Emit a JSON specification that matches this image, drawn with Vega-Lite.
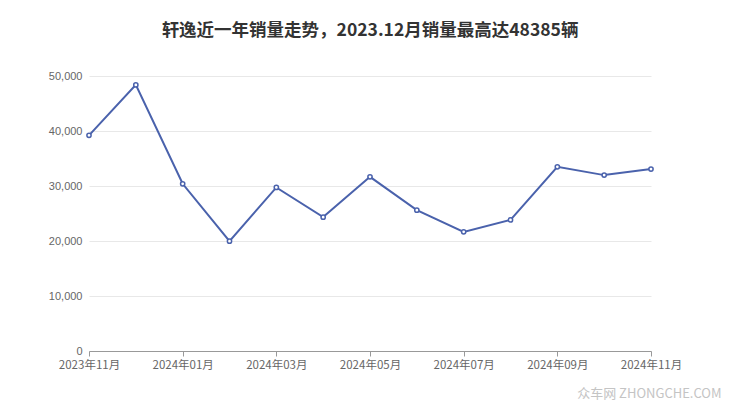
{
  "$schema": "https://vega.github.io/schema/vega-lite/v6.json",
  "width": 562,
  "height": 275,
  "autosize": "none",
  "padding": {"left": 89, "top": 76, "right": 89, "bottom": 66},
  "background": "white",
  "title": {
    "text": "轩逸近一年销量走势，2023.12月销量最高达48385辆",
    "font": "Noto Sans CJK SC",
    "fontSize": 17.5,
    "fontWeight": "bold",
    "color": "#333333",
    "anchor": "middle",
    "offset": 31
  },
  "config": {
    "view": {"stroke": null},
    "font": "Noto Sans CJK SC"
  },
  "data": {
    "values": [
      {"month": "2023年11月", "sales": 39207},
      {"month": "2023年12月", "sales": 48385},
      {"month": "2024年01月", "sales": 30400},
      {"month": "2024年02月", "sales": 19970},
      {"month": "2024年03月", "sales": 29740},
      {"month": "2024年04月", "sales": 24340},
      {"month": "2024年05月", "sales": 31670},
      {"month": "2024年06月", "sales": 25610},
      {"month": "2024年07月", "sales": 21660},
      {"month": "2024年08月", "sales": 23840},
      {"month": "2024年09月", "sales": 33490},
      {"month": "2024年10月", "sales": 31980},
      {"month": "2024年11月", "sales": 33070}
    ]
  },
  "encoding": {
    "x": {
      "field": "month",
      "type": "ordinal",
      "sort": null,
      "scale": {"type": "point", "padding": 0},
      "axis": {
        "values": ["2023年11月", "2024年01月", "2024年03月", "2024年05月", "2024年07月", "2024年09月", "2024年11月"],
        "labelAngle": 0,
        "labelColor": "#666666",
        "labelFontSize": 11.5,
        "labelFont": "Noto Sans CJK SC",
        "labelPadding": 3,
        "domainColor": "#999999",
        "tickColor": "#999999",
        "tickSize": 5,
        "grid": false,
        "title": "众车网  ZHONGCHE.COM",
        "titleColor": "#c4c4c4",
        "titleFontSize": 13,
        "titleFontWeight": "normal",
        "titleAnchor": "end",
        "titleAlign": "right",
        "titleX": 632,
        "titlePadding": 17
      }
    },
    "y": {
      "field": "sales",
      "type": "quantitative",
      "scale": {"domain": [0, 50000]},
      "axis": {
        "values": [0, 10000, 20000, 30000, 40000, 50000],
        "format": ",d",
        "labelColor": "#666666",
        "labelFontSize": 11,
        "labelFont": "Liberation Sans",
        "labelPadding": 7,
        "labelBaseline": "bottom",
        "labelOffset": 5,
        "domain": false,
        "ticks": false,
        "gridColor": "#e8e8e8",
        "title": null
      }
    }
  },
  "layer": [
    {
      "mark": {"type": "line", "color": "#4a62ac", "strokeWidth": 2}
    },
    {
      "mark": {"type": "point", "filled": true, "fill": "white", "stroke": "#4a62ac", "strokeWidth": 1.5, "size": 18, "opacity": 1}
    }
  ]
}
